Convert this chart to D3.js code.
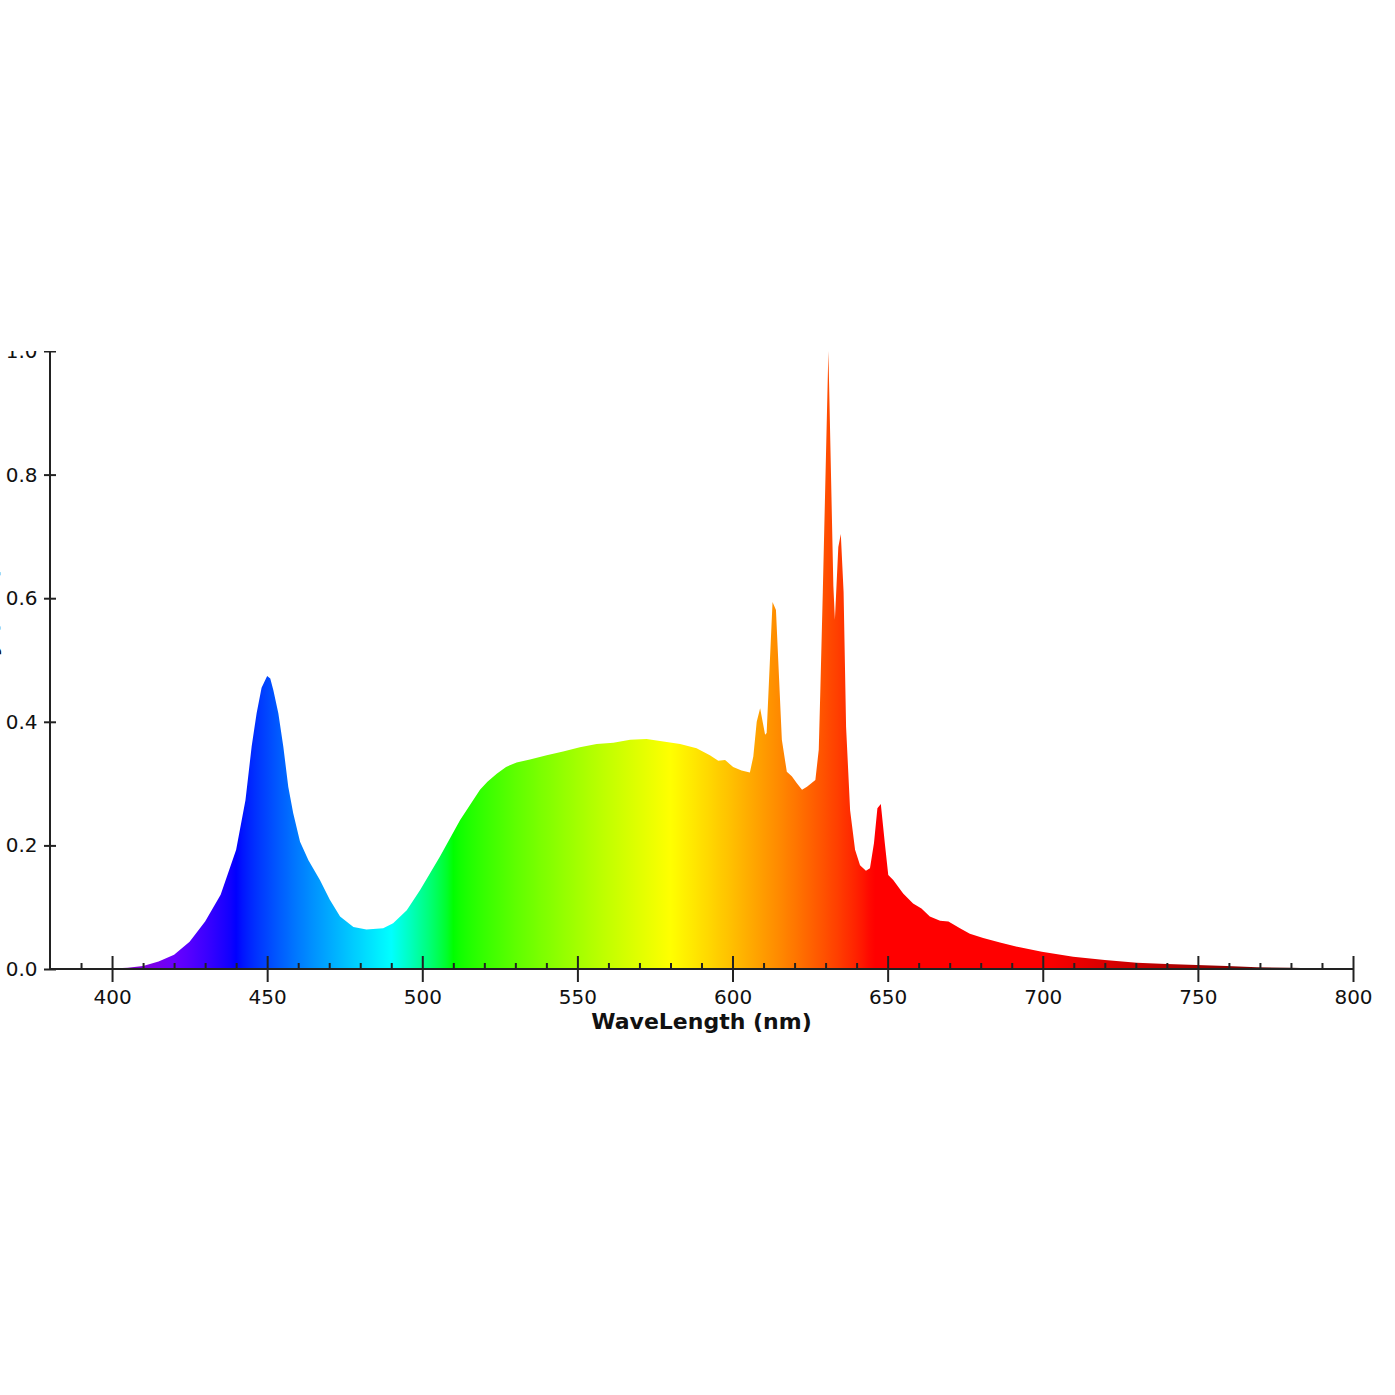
<!DOCTYPE html>
<html>
<head>
<meta charset="utf-8">
<script src="https://cdn.jsdelivr.net/npm/d3@7"></script>
<style>
  html, body { margin: 0; padding: 0; background: #fff; }
  svg { display: block; font-family: "DejaVu Sans", Verdana, sans-serif; }
</style>
</head>
<body>
<svg id="chart"></svg>
<script>
// spectrum (nm, relative intensity)
const wavelengths = [
  380, 390, 400, 405, 410, 415, 420, 425, 430, 435, 440, 443, 445, 446.6, 448.2,
  450, 451, 452, 453.6, 455.2, 456.8, 458.4, 460.6, 463.3, 467, 470.2, 473.5,
  477.8, 482, 487.4, 490.6, 495, 499.3, 505.7, 512.2, 518.6, 521, 524, 527, 530.4, 534.7,
  540.1, 545.4, 550.8, 556.2, 561.6, 567, 572.3, 577.7, 583.1, 588.4, 592.7,
  595.4, 597.6, 600.2, 602.9, 605.6, 606.7, 607.8, 608.9, 610.5, 611, 612.9, 614,
  615.9, 617.5, 619.1, 620.8, 622.4, 624, 626.7, 627.8, 628.3, 629.1, 630.9,
  632.5, 633, 634.1, 634.9, 635.8, 636.6, 637.9, 639.5, 641.1, 643, 644.3, 645.6,
  646.7, 647.8, 649.1, 650.2, 651.8, 655, 658.2, 660.9, 663.6, 666.9, 669.6,
  673.3, 676.5, 680.8, 686.2, 692.6, 699.7, 709.8, 720, 730.3, 740, 749.6, 759.3,
  769, 780, 790, 800
];
const intensities = [
  0, 0, 0.001, 0.002, 0.005, 0.012, 0.023, 0.044, 0.077, 0.12, 0.193, 0.273, 0.36, 0.414, 0.455,
  0.474, 0.47, 0.451, 0.414, 0.36, 0.295, 0.252, 0.206, 0.176, 0.144, 0.112, 0.085,
  0.068, 0.064, 0.066, 0.074, 0.095, 0.128, 0.182, 0.241, 0.29, 0.303, 0.316, 0.327, 0.334, 0.339,
  0.346, 0.352, 0.359, 0.364, 0.366, 0.371, 0.372, 0.368, 0.364, 0.357, 0.346,
  0.337, 0.338, 0.327, 0.321, 0.318, 0.344, 0.40, 0.422, 0.379, 0.382, 0.594, 0.581,
  0.371, 0.319, 0.312, 0.30, 0.29, 0.295, 0.306, 0.355, 0.45, 0.61, 1.0,
  0.62, 0.565, 0.683, 0.704, 0.61, 0.392, 0.257, 0.193, 0.168, 0.159, 0.163, 0.204,
  0.26, 0.267, 0.203, 0.152, 0.144, 0.122, 0.106, 0.098, 0.085, 0.078, 0.077,
  0.066, 0.057, 0.05, 0.043, 0.035, 0.028, 0.02, 0.0146, 0.0102, 0.008, 0.0065, 0.005,
  0.003, 0.002, 0.001, 0
];
const xMajorTicks = [400, 450, 500, 550, 600, 650, 700, 750, 800];
const xMinorTicks = [390, 410, 420, 430, 440, 460, 470, 480, 490, 510, 520, 530, 540,
  560, 570, 580, 590, 610, 620, 630, 640, 660, 670, 680, 690, 710, 720, 730, 740,
  760, 770, 780, 790];
const yTicks = [0, 0.2, 0.4, 0.6, 0.8, 1.0];
const xTitle = "WaveLength (nm)";
const yTitle = "Intensity (a.u.)";

const W = 1395, H = 1395;
const plot = { left: 50, right: 1353, top: 351, bottom: 969 };
const FONT = '"DejaVu Sans", Verdana, sans-serif';

const svg = d3.select("#chart").attr("width", W).attr("height", H);

// the original view is cut at the top edge of the plot
svg.append("defs").append("clipPath").attr("id", "view")
  .append("rect").attr("x", 0).attr("y", plot.top).attr("width", W).attr("height", H - plot.top);

const x = d3.scaleLinear().domain([380, 800]).range([plot.left, plot.right]);
const y = d3.scaleLinear().domain([0, 1]).range([plot.bottom, plot.top]);

// wavelength -> rgb (Bruton)
function waveColor(w) {
  let r = 0, g = 0, b = 0;
  if (w < 440) { r = -(w - 440) / 60; b = 1; }
  else if (w < 490) { g = (w - 440) / 50; b = 1; }
  else if (w < 510) { g = 1; b = -(w - 510) / 20; }
  else if (w < 580) { r = (w - 510) / 70; g = 1; }
  else if (w < 645) { r = 1; g = -(w - 645) / 65; }
  else { r = 1; }
  let f = 1;
  if (w < 420) f = 0.3 + 0.7 * (w - 380) / 40;
  else if (w > 700) f = Math.max(0.3, 0.3 + 0.7 * (780 - w) / 80);
  const c = (v) => Math.round(255 * Math.pow(v * f, 0.8));
  return d3.rgb(c(r), c(g), c(b)).formatHex();
}

const grad = svg.select("defs").append("linearGradient")
  .attr("id", "spectrum")
  .attr("gradientUnits", "userSpaceOnUse")
  .attr("x1", x(380)).attr("x2", x(800)).attr("y1", 0).attr("y2", 0);
d3.range(380, 801, 2).forEach((w) => {
  grad.append("stop").attr("offset", (w - 380) / 420).attr("stop-color", waveColor(w));
});

const g = svg.append("g").attr("clip-path", "url(#view)");

const data = wavelengths.map((w, i) => ({ w, v: intensities[i] }));

g.append("path")
  .datum(data)
  .attr("fill", "url(#spectrum)")
  .attr("d", d3.area().x((d) => x(d.w)).y0(y(0)).y1((d) => y(d.v)));

// x axis
const xAxis = g.append("g").attr("transform", `translate(0,${plot.bottom})`);
xAxis.call(d3.axisBottom(x).tickValues(xMajorTicks).tickSize(13).tickFormat(d3.format("d")));
xAxis.attr("font-family", FONT).attr("font-size", 20);
xAxis.selectAll(".tick line").attr("y1", -13).attr("y2", 13);
xAxis.selectAll(".tick text").attr("y", 21).attr("fill", "#111");
xAxis.select(".domain").attr("d", `M${plot.left},0H${plot.right}`);

const xMinor = g.append("g").attr("transform", `translate(0,${plot.bottom})`);
xMinor.call(d3.axisBottom(x).tickValues(xMinorTicks).tickSize(-6).tickFormat(""));
xMinor.select(".domain").remove();

// y axis
const yAxis = g.append("g").attr("transform", `translate(${plot.left},0)`);
yAxis.call(d3.axisLeft(y).tickValues(yTicks).tickSize(6).tickFormat(d3.format(".1f")));
yAxis.attr("font-family", FONT).attr("font-size", 20);
yAxis.selectAll(".tick line").attr("x1", 6).attr("x2", -6);
yAxis.selectAll(".tick text").attr("x", -12.5).attr("fill", "#111");
yAxis.select(".domain").attr("d", `M0,${plot.top}V${plot.bottom}`);

g.selectAll(".domain, .tick line").attr("stroke", "#222").attr("stroke-width", 2);

// titles
g.append("text")
  .attr("x", (plot.left + plot.right) / 2)
  .attr("y", 1029)
  .attr("text-anchor", "middle")
  .attr("font-size", 22)
  .attr("font-weight", "bold")
  .attr("fill", "#111")
  .text(xTitle);

// y title sits almost entirely past the left edge, as in the original crop
g.append("text")
  .attr("transform", `translate(-3.5,${(plot.top + plot.bottom) / 2}) rotate(-90)`)
  .attr("text-anchor", "middle")
  .attr("font-size", 22)
  .attr("font-weight", "bold")
  .attr("fill", "#111")
  .text(yTitle);
</script>
</body>
</html>
